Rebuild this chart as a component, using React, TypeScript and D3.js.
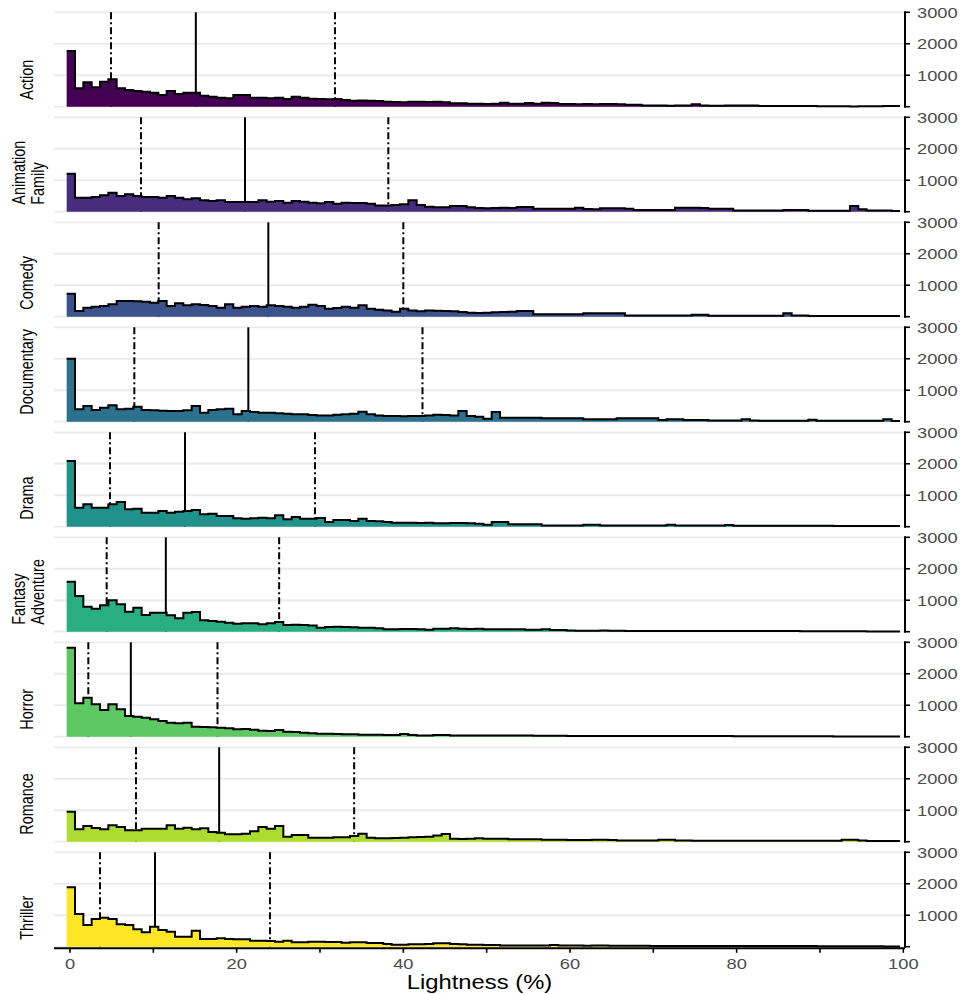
import * as d3 from 'd3'
import { useRef, useEffect } from 'react'

// genres, top to bottom
const genres = [
  'Action',
  'Animation Family',
  'Comedy',
  'Documentary',
  'Drama',
  'Fantasy Adventure',
  'Horror',
  'Romance',
  'Thriller'
]

// counts per 1% lightness bin (100 bins, 0..99)
const action = [
  1770, 583, 774, 615, 795, 870, 583, 530, 498, 477, 445, 371, 498, 403, 445, 445, 350, 318, 286, 265,
  371, 371, 286, 286, 265, 286, 244, 318, 286, 254, 244, 233, 244, 212, 191, 201, 191, 180, 159, 148,
  138, 159, 159, 148, 159, 138, 106, 106, 95, 95, 85, 95, 127, 95, 95, 120, 90, 125, 115, 85,
  85, 80, 85, 75, 85, 85, 80, 65, 60, 40, 35, 35, 30, 35, 40, 74, 35, 30, 30, 35,
  40, 40, 35, 25, 22, 22, 20, 20, 20, 20, 18, 18, 15, 12, 10, 12, 12, 15, 20, 22
]
const animationFamily = [
  1208, 445, 445, 466, 519, 604, 498, 551, 498, 466, 466, 445, 498, 445, 392, 424, 360, 339, 360, 307,
  307, 307, 307, 360, 318, 339, 286, 339, 318, 286, 265, 307, 254, 286, 275, 275, 254, 201, 201, 212,
  233, 360, 212, 159, 138, 138, 180, 180, 138, 117, 110, 120, 127, 120, 150, 150, 95, 95, 95, 95,
  95, 127, 85, 80, 106, 106, 106, 90, 53, 53, 53, 53, 53, 127, 127, 127, 120, 95, 95, 95,
  42, 42, 42, 42, 42, 42, 53, 53, 53, 32, 32, 32, 32, 32, 180, 75, 42, 42, 42, 20
]
const comedy = [
  731, 180, 286, 318, 339, 392, 498, 498, 488, 477, 445, 498, 339, 424, 360, 392, 371, 339, 286, 392,
  286, 318, 339, 318, 360, 339, 318, 286, 318, 382, 339, 254, 276, 318, 286, 360, 254, 223, 201, 159,
  254, 201, 170, 201, 191, 180, 170, 148, 127, 117, 127, 138, 150, 160, 180, 180, 75, 75, 75, 75,
  75, 75, 106, 106, 106, 106, 106, 42, 42, 42, 42, 42, 42, 42, 42, 64, 64, 32, 32, 32,
  32, 32, 32, 32, 32, 32, 106, 42, 42, 21, 21, 21, 21, 21, 21, 21, 21, 21, 21, 21
]
const documentary = [
  2003, 392, 498, 371, 445, 519, 392, 413, 477, 371, 360, 350, 339, 339, 360, 498, 286, 371, 392, 413,
  233, 339, 307, 286, 286, 265, 254, 233, 233, 212, 201, 201, 223, 233, 254, 318, 233, 201, 180, 180,
  170, 180, 180, 201, 223, 212, 201, 339, 180, 159, 95, 307, 127, 127, 127, 127, 127, 106, 106, 106,
  106, 106, 75, 75, 75, 75, 106, 106, 106, 106, 106, 53, 75, 75, 53, 53, 53, 42, 42, 42,
  42, 75, 42, 32, 32, 32, 32, 32, 32, 60, 32, 32, 32, 32, 32, 32, 32, 32, 75, 20
]
const drama = [
  2088, 604, 710, 604, 604, 710, 784, 551, 572, 445, 445, 498, 445, 477, 498, 530, 392, 413, 339, 339,
  265, 254, 265, 286, 265, 360, 233, 307, 254, 254, 276, 148, 212, 212, 180, 254, 180, 170, 148, 127,
  127, 127, 117, 127, 106, 106, 117, 117, 106, 95, 60, 148, 148, 74, 74, 74, 74, 42, 42, 42,
  42, 42, 64, 64, 42, 42, 42, 35, 35, 35, 35, 35, 64, 35, 35, 35, 35, 35, 35, 53,
  32, 32, 32, 32, 32, 32, 32, 32, 32, 32, 32, 32, 25, 25, 25, 25, 25, 25, 20, 20
]
const fantasyAdventure = [
  1590, 1134, 795, 731, 837, 996, 869, 636, 763, 530, 604, 604, 519, 424, 604, 625, 360, 339, 318, 286,
  254, 265, 265, 233, 265, 307, 212, 223, 212, 201, 127, 148, 159, 148, 138, 127, 127, 106, 74, 74,
  85, 85, 74, 64, 95, 95, 106, 95, 85, 95, 74, 74, 74, 74, 74, 64, 64, 80, 53, 53,
  42, 32, 32, 32, 42, 32, 32, 25, 25, 25, 25, 25, 25, 25, 25, 20, 20, 20, 20, 20,
  20, 20, 20, 20, 20, 20, 20, 20, 15, 15, 15, 15, 15, 15, 15, 15, 10, 10, 10, 10
]
const horror = [
  2830, 1060, 1240, 1028, 848, 1028, 869, 657, 636, 604, 551, 498, 445, 424, 445, 318, 307, 297, 286, 265,
  233, 244, 223, 191, 180, 212, 159, 148, 127, 106, 95, 95, 85, 74, 74, 64, 64, 64, 53, 53,
  85, 53, 42, 42, 53, 53, 42, 42, 42, 42, 42, 42, 35, 35, 35, 35, 30, 30, 30, 30,
  25, 25, 25, 25, 25, 25, 25, 25, 20, 20, 20, 20, 20, 20, 20, 20, 20, 20, 20, 20,
  15, 15, 15, 15, 15, 15, 15, 15, 15, 15, 15, 15, 10, 10, 10, 10, 10, 10, 10, 10
]
const romance = [
  954, 392, 498, 435, 392, 519, 466, 360, 360, 413, 413, 413, 519, 413, 445, 392, 424, 307, 286, 233,
  233, 254, 329, 466, 413, 498, 159, 212, 212, 127, 127, 127, 138, 138, 180, 254, 127, 106, 106, 117,
  127, 138, 148, 159, 201, 244, 95, 85, 95, 106, 95, 95, 95, 75, 75, 75, 75, 60, 60, 60,
  53, 53, 53, 64, 64, 53, 42, 42, 42, 42, 42, 64, 64, 42, 42, 32, 32, 32, 32, 32,
  32, 32, 32, 32, 32, 32, 32, 32, 32, 32, 32, 32, 32, 64, 64, 42, 20, 20, 20, 20
]
const thriller = [
  1887, 1039, 689, 880, 922, 880, 710, 689, 551, 456, 636, 530, 477, 318, 318, 509, 244, 244, 265, 244,
  233, 233, 191, 191, 180, 159, 191, 138, 138, 159, 159, 148, 148, 127, 138, 138, 117, 117, 85, 64,
  64, 74, 74, 85, 106, 106, 85, 74, 64, 64, 53, 53, 42, 42, 42, 42, 42, 42, 53, 42,
  42, 42, 32, 42, 42, 32, 32, 32, 32, 32, 25, 25, 25, 25, 25, 25, 25, 25, 25, 20,
  20, 20, 20, 20, 20, 20, 20, 20, 20, 20, 15, 15, 15, 15, 15, 15, 15, 15, 10, 10
]

const counts = [action, animationFamily, comedy, documentary, drama, fantasyAdventure, horror, romance, thriller]

// quartiles and median of lightness per genre
const q25 = [4.92, 8.52, 10.64, 7.72, 4.8, 4.4, 2.2, 7.92, 3.6]
const medians = [15.1, 21.0, 23.8, 21.4, 13.8, 11.5, 7.3, 17.9, 10.2]
const q75 = [31.8, 38.2, 40.0, 42.3, 29.4, 25.1, 17.7, 34.1, 24.0]

const yTicks = [0, 1000, 2000, 3000]
const xTicks = [0, 10, 20, 30, 40, 50, 60, 70, 80, 90, 100]
const xLabels = [0, 20, 40, 60, 80, 100]

const FONT = 'Liberation Sans, Arial, Helvetica, sans-serif'
const STRETCH = 1.22

const App = () => {
  const chart = useRef(null)

  useEffect(() => {
    document.body.style.margin = '0'
    drawChart()
  }, [])

  const drawChart = () => {
    const svg = d3.select(chart.current)
    svg.selectAll('*').remove()

    const left = 54
    const right = 905
    const firstTop = 12.3
    const pitch = 105
    const panelH = 94.4

    const x = d3.scaleLinear().domain([0, 100]).range([70, 903.3])
    const color = (i) => d3.interpolateViridis(i / (genres.length - 1))

    counts.forEach((values, i) => {
      const top = firstTop + pitch * i
      const y = d3.scaleLinear().domain([0, 3000]).range([top + panelH, top])
      const g = svg.append('g')

      // grid
      g.selectAll('line.grid')
        .data(yTicks)
        .enter()
        .append('line')
        .attr('x1', left)
        .attr('x2', right)
        .attr('y1', (d) => y(d))
        .attr('y2', (d) => y(d))
        .attr('stroke', '#ebebeb')
        .attr('stroke-width', 1.8)

      // quartile + median lines (under the histogram)
      const marks = [
        { v: q25[i], dash: '7,3,2,3' },
        { v: medians[i], dash: null },
        { v: q75[i], dash: '7,3,2,3' }
      ]
      g.selectAll('line.stat')
        .data(marks)
        .enter()
        .append('line')
        .attr('x1', (d) => x(d.v))
        .attr('x2', (d) => x(d.v))
        .attr('y1', y(3000))
        .attr('y2', y(0))
        .attr('stroke', '#000')
        .attr('stroke-width', 2)
        .attr('stroke-dasharray', (d) => d.dash)

      // bins: lower edge of each 1% bin, plus a closing point
      const pts = values.map((v, k) => ({ lo: k - 0.4, v }))
      pts.push({ lo: values.length - 0.4, v: values[values.length - 1] })

      const area = d3
        .area()
        .curve(d3.curveStepAfter)
        .x((d) => x(d.lo))
        .y0(y(0))
        .y1((d) => y(d.v))
      g.append('path').attr('d', area(pts)).attr('fill', color(i))

      const line = d3
        .line()
        .curve(d3.curveStepAfter)
        .x((d) => x(d.lo))
        .y((d) => y(d.v))
      g.append('path')
        .attr('d', line(pts))
        .attr('fill', 'none')
        .attr('stroke', '#000')
        .attr('stroke-width', 2)

      // right axis
      g.append('line')
        .attr('x1', right)
        .attr('x2', right)
        .attr('y1', y(3000) - 1)
        .attr('y2', y(0) + 1)
        .attr('stroke', '#000')
        .attr('stroke-width', 2)
      g.selectAll('line.ytick')
        .data(yTicks)
        .enter()
        .append('line')
        .attr('x1', right)
        .attr('x2', right + 5)
        .attr('y1', (d) => y(d))
        .attr('y2', (d) => y(d))
        .attr('stroke', '#000')
        .attr('stroke-width', 1.6)
      g.selectAll('text.ylab')
        .data(yTicks.filter((d) => d > 0))
        .enter()
        .append('text')
        .attr('transform', (d) => `translate(917,${y(d) + 5.3}) scale(${STRETCH},1)`)
        .attr('font-family', FONT)
        .attr('font-size', 15)
        .attr('fill', '#4d4d4d')
        .text((d) => d)

      // facet label
      const words = genres[i].split(' ')
      const baseX = words.length === 1 ? [33.3] : [24.5, 43.5]
      words.forEach((w, j) => {
        g.append('text')
          .attr('transform', `translate(${baseX[j]},${top + panelH - 7}) scale(${STRETCH},1) rotate(-90)`)
          .attr('font-family', FONT)
          .attr('font-size', 14.4)
          .attr('fill', '#000')
          .text(w)
      })

      // bottom axis on the last panel
      if (i === counts.length - 1) {
        const base = y(0) + 1.6
        g.append('line')
          .attr('x1', left)
          .attr('x2', right)
          .attr('y1', base)
          .attr('y2', base)
          .attr('stroke', '#000')
          .attr('stroke-width', 2)
        g.selectAll('line.xtick')
          .data(xTicks)
          .enter()
          .append('line')
          .attr('x1', (d) => x(d))
          .attr('x2', (d) => x(d))
          .attr('y1', base)
          .attr('y2', base + 4.5)
          .attr('stroke', '#000')
          .attr('stroke-width', 1.6)
        g.selectAll('text.xlab')
          .data(xLabels)
          .enter()
          .append('text')
          .attr('transform', (d) => `translate(${x(d)},968.5) scale(${STRETCH},1)`)
          .attr('text-anchor', 'middle')
          .attr('font-family', FONT)
          .attr('font-size', 15)
          .attr('fill', '#4d4d4d')
          .text((d) => d)
        g.append('text')
          .attr('transform', `translate(${(left + right) / 2},988.5) scale(${STRETCH},1)`)
          .attr('text-anchor', 'middle')
          .attr('font-family', FONT)
          .attr('font-size', 19.5)
          .attr('fill', '#000')
          .text('Lightness (%)')
      }
    })
  }

  return (
    <div>
      <svg ref={chart} width={963} height={995} style={{ display: 'block', background: '#fff' }}></svg>
    </div>
  )
}

export default App
